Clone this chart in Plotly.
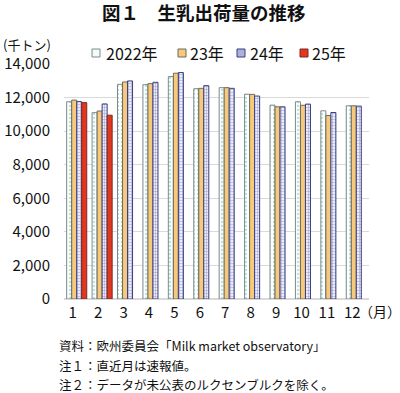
import plotly.graph_objects as go

months = ["1", "2", "3", "4", "5", "6", "7", "8", "9", "10", "11", "12"]
series_names = ["2022年", "23年", "24年", "25年"]
v2022 = [11750, 11100, 12790, 12770, 13250, 12530, 12590, 12200, 11550, 11750, 11210, 11510]
v2023 = [11850, 11200, 12930, 12830, 13450, 12550, 12590, 12190, 11450, 11540, 10930, 11510]
v2024 = [11760, 11620, 12990, 12910, 13490, 12710, 12550, 12090, 11450, 11610, 11110, 11490]
v2025 = [11700, 10950, None, None, None, None, None, None, None, None, None, None]
y_ticks = [0, 2000, 4000, 6000, 8000, 10000, 12000, 14000]

FONT = "Noto Sans CJK JP, sans-serif"
W, H = 400, 393
L, R, T, B = 64, 31, 64, 94
PW, PH = W - L - R, H - T - B


def px(xp):
    return (xp - L) / PW


def py(yp):
    return (H - B - yp) / PH


styles = [
    dict(color="white", line=dict(color="#7a8a8a", width=1),
         pattern=dict(shape=".", fgcolor="#6cc0b8", bgcolor="white", size=4, solidity=0.25)),
    dict(color="#f6c97c", line=dict(color="#6e6a5e", width=1)),
    dict(color="#dcdcf2", line=dict(color="#3a3f7a", width=1),
         pattern=dict(shape="+", fgcolor="#5a5fb5", bgcolor="#ececfa", size=3, solidity=0.35)),
    dict(color="#e2361f", line=dict(color="#7a2a20", width=1)),
]

fig = go.Figure()
for name, vals, st in zip(series_names, [v2022, v2023, v2024, v2025], styles):
    fig.add_trace(go.Bar(x=months, y=vals, name=name, marker=st, showlegend=False,
                         hoverinfo="skip"))

fig.update_layout(
    width=W, height=H,
    margin=dict(l=L, r=R, t=T, b=B, autoexpand=False),
    paper_bgcolor="white", plot_bgcolor="white",
    barmode="group", bargap=0.21, bargroupgap=0,
    font=dict(family=FONT, size=15, color="#111"),
    showlegend=False,
    xaxis=dict(showgrid=False, showline=False, ticks="", tickfont=dict(size=15),
               ticklabelstandoff=3, ticklabelshift=-4, automargin=False),
    yaxis=dict(range=[0, 14000], tickvals=y_ticks, tickformat=",", showgrid=True,
               gridcolor="#d9d9d9", gridwidth=1, zeroline=True, zerolinecolor="#d9d9d9",
               showline=False, ticks="", tickfont=dict(size=15), ticklabelstandoff=13,
               automargin=False),
)

# title
fig.add_annotation(text="<b>図１　生乳出荷量の推移</b>", xref="paper", yref="paper",
                   x=px(100), y=py(12.5), xanchor="left", yanchor="middle",
                   showarrow=False, font=dict(size=18.5))

# manual legend (swatches + real text)
sw_x = [92, 178, 237, 300]
tx_x = [104, 188, 248, 310]
sw_fill = ["#f4fbfa", "#f6c97c", "#aeb1de", "#e2361f"]
sw_line = ["#7a8a8a", "#6e6a5e", "#3a3f7a", "#7a2a20"]
for name, sx, tx, fc, lc in zip(series_names, sw_x, tx_x, sw_fill, sw_line):
    fig.add_shape(type="rect", xref="paper", yref="paper",
                  x0=px(sx), x1=px(sx + 8), y0=py(57), y1=py(49),
                  fillcolor=fc, line=dict(color=lc, width=1))
    fig.add_annotation(text=name, xref="paper", yref="paper", x=px(tx), y=py(53),
                       xanchor="left", yanchor="middle", showarrow=False,
                       font=dict(size=16))

fig.add_annotation(text="(千トン)", xref="paper", yref="paper", x=px(1), y=py(44),
                   xanchor="left", yanchor="middle", showarrow=False, font=dict(size=13))
fig.add_annotation(text="（月）", xref="paper", yref="paper", x=px(357), y=py(311),
                   xanchor="left", yanchor="middle", showarrow=False, font=dict(size=14))
notes = ["資料：欧州委員会「Milk market observatory」",
         "注１：直近月は速報値。",
         "注２：データが未公表のルクセンブルクを除く。"]
for i, t in enumerate(notes):
    fig.add_annotation(text=t, xref="paper", yref="paper", x=px(57), y=py(345 + 20 * i),
                       xanchor="left", yanchor="middle", showarrow=False,
                       font=dict(size=12.5))

fig.write_html("out.html", config={"displayModeBar": False},
               post_script="document.body.style.margin='0';")
